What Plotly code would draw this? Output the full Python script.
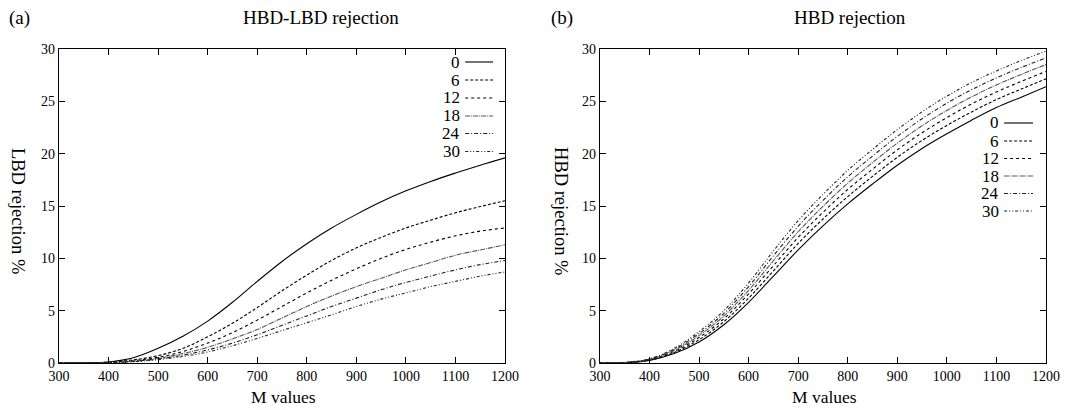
import plotly.graph_objects as go

# ---------------- data ----------------
M = [300, 350, 400, 450, 500, 550, 600, 650, 700, 750, 800, 850, 900, 950, 1000, 1050, 1100, 1150, 1200]
series_names = ["0", "6", "12", "18", "24", "30"]

# (a) HBD-LBD rejection -> LBD rejection %
lbd_0  = [0, 0.02, 0.10, 0.50, 1.40, 2.55, 4.00, 5.80, 7.80, 9.70, 11.4, 12.9, 14.2, 15.4, 16.45, 17.35, 18.15, 18.9, 19.6]
lbd_6  = [0, 0.01, 0.08, 0.30, 0.70, 1.40, 2.50, 3.80, 5.30, 6.90, 8.40, 9.80, 11.0, 12.0, 12.9, 13.65, 14.35, 14.95, 15.5]
lbd_12 = [0, 0.01, 0.06, 0.22, 0.55, 1.10, 1.90, 2.90, 4.10, 5.40, 6.70, 7.90, 9.00, 10.0, 10.85, 11.55, 12.15, 12.6, 12.9]
lbd_18 = [0, 0.01, 0.05, 0.18, 0.45, 0.90, 1.50, 2.30, 3.20, 4.30, 5.40, 6.40, 7.30, 8.10, 8.90, 9.60, 10.3, 10.8, 11.3]
lbd_24 = [0, 0.01, 0.04, 0.15, 0.38, 0.75, 1.25, 1.90, 2.70, 3.60, 4.50, 5.40, 6.20, 7.00, 7.70, 8.30, 8.90, 9.40, 9.80]
lbd_30 = [0, 0.01, 0.03, 0.12, 0.32, 0.62, 1.05, 1.65, 2.35, 3.10, 3.85, 4.60, 5.40, 6.10, 6.70, 7.30, 7.80, 8.30, 8.70]

# (b) HBD rejection -> HBD rejection %
hbd_0  = [0, 0.03, 0.25, 0.90, 2.00, 3.65, 5.80, 8.30, 10.8, 13.1, 15.2, 17.1, 18.9, 20.5, 21.9, 23.2, 24.4, 25.4, 26.4]
hbd_6  = [0, 0.03, 0.28, 1.01, 2.22, 3.95, 6.20, 8.80, 11.42, 13.76, 15.90, 17.83, 19.65, 21.27, 22.70, 23.99, 25.17, 26.17, 27.15]
hbd_12 = [0, 0.04, 0.31, 1.12, 2.43, 4.23, 6.60, 9.30, 12.00, 14.39, 16.58, 18.52, 20.36, 22.00, 23.45, 24.75, 25.90, 26.90, 27.86]
hbd_18 = [0, 0.04, 0.34, 1.21, 2.62, 4.49, 6.95, 9.77, 12.54, 14.96, 17.18, 19.15, 21.00, 22.67, 24.13, 25.43, 26.57, 27.57, 28.51]
hbd_24 = [0, 0.05, 0.37, 1.31, 2.81, 4.74, 7.30, 10.24, 13.07, 15.53, 17.79, 19.77, 21.65, 23.34, 24.82, 26.12, 27.24, 28.24, 29.15]
hbd_30 = [0, 0.05, 0.40, 1.40, 3.00, 5.00, 7.65, 10.70, 13.60, 16.10, 18.40, 20.40, 22.30, 24.00, 25.50, 26.80, 27.90, 28.90, 29.80]

x_ticks = [300, 400, 500, 600, 700, 800, 900, 1000, 1100, 1200]
y_ticks = [0, 5, 10, 15, 20, 25, 30]

# ---------------- style ----------------
dashes = ["solid", "3px,2px", "3px,3px", "5px,1px,1px,1px", "4px,2px,1px,2px", "3px,2px,1px,2px,1px,2px"]
colors = ["#000000", "#000000", "#000000", "#555555", "#222222", "#222222"]
FONT = "Liberation Serif, Times New Roman, serif"

W, H = 1072, 410
L, R, T, B = 59, 1048, 49, 363   # plot area in pixels (both panels)
def px(xp):
    return (xp - L) / (R - L)
def py(yp):
    return (B - yp) / (B - T)

fig = go.Figure()

lbd = [lbd_0, lbd_6, lbd_12, lbd_18, lbd_24, lbd_30]
hbd = [hbd_0, hbd_6, hbd_12, hbd_18, hbd_24, hbd_30]

for i, name in enumerate(series_names):
    fig.add_trace(go.Scatter(x=M, y=lbd[i], mode="lines", name=name, showlegend=False,
                             line=dict(color=colors[i], width=1.1, dash=dashes[i], shape="spline", smoothing=1.0),
                             xaxis="x", yaxis="y"))
for i, name in enumerate(series_names):
    fig.add_trace(go.Scatter(x=M, y=hbd[i], mode="lines", name=name, showlegend=False,
                             line=dict(color=colors[i], width=1.1, dash=dashes[i], shape="spline", smoothing=1.0),
                             xaxis="x2", yaxis="y2"))

axis_common = dict(showline=True, linecolor="black", linewidth=1.2, mirror="ticks",
                   ticks="inside", ticklen=6, tickwidth=1, tickcolor="black",
                   showgrid=False, zeroline=False,
                   tickfont=dict(family=FONT, size=14, color="black"))

left_dom = [0, px(506)]
right_dom = [px(601), 1]

fig.update_layout(
    width=W, height=H,
    margin=dict(l=L, r=W - R, t=T, b=H - B),
    paper_bgcolor="white", plot_bgcolor="white",
    showlegend=False,
    xaxis=dict(domain=left_dom, range=[300, 1200], tickvals=x_ticks, anchor="y", **axis_common),
    yaxis=dict(domain=[0, 1], range=[0, 30], tickvals=y_ticks, anchor="x", **axis_common),
    xaxis2=dict(domain=right_dom, range=[300, 1200], tickvals=x_ticks, anchor="y2", **axis_common),
    yaxis2=dict(domain=[0, 1], range=[0, 30], tickvals=y_ticks, anchor="x2", **axis_common),
)

annotations = []
def text(xp, yp, s, size, xanchor="center", angle=0):
    annotations.append(dict(x=px(xp), y=py(yp), xref="paper", yref="paper", text=s, showarrow=False,
                            xanchor=xanchor, yanchor="middle", textangle=angle,
                            font=dict(family=FONT, size=size, color="black")))

# titles
text(7, 18, "(a)", 19, xanchor="left")
text(322, 18, "HBD-LBD rejection", 19)
text(550, 18, "(b)", 19, xanchor="left")
text(852, 18, "HBD rejection", 19)
# axis titles
text(284, 397, "M values", 17.5)
text(826, 397, "M values", 17.5)
text(18, 211, "LBD rejection %", 18.5, angle=90)
text(562, 211, "HBD rejection %", 18.5, angle=90)

# legends (labels right-aligned, line samples to the right)
shapes = []
leg_a_rows = [62, 80, 98, 116, 133.5, 151.5]
leg_b_rows = [123, 141, 158.5, 176, 193.5, 211]
for i, name in enumerate(series_names):
    text(463, leg_a_rows[i], name, 17, xanchor="right")
    shapes.append(dict(type="line", xref="paper", yref="paper",
                       x0=px(466), x1=px(494), y0=py(leg_a_rows[i]), y1=py(leg_a_rows[i]),
                       line=dict(color=colors[i], width=1.1, dash=dashes[i])))
    text(1003, leg_b_rows[i], name, 17, xanchor="right")
    shapes.append(dict(type="line", xref="paper", yref="paper",
                       x0=px(1006), x1=px(1035), y0=py(leg_b_rows[i]), y1=py(leg_b_rows[i]),
                       line=dict(color=colors[i], width=1.1, dash=dashes[i])))

fig.update_layout(annotations=annotations, shapes=shapes)

fig.write_html("out.html")
